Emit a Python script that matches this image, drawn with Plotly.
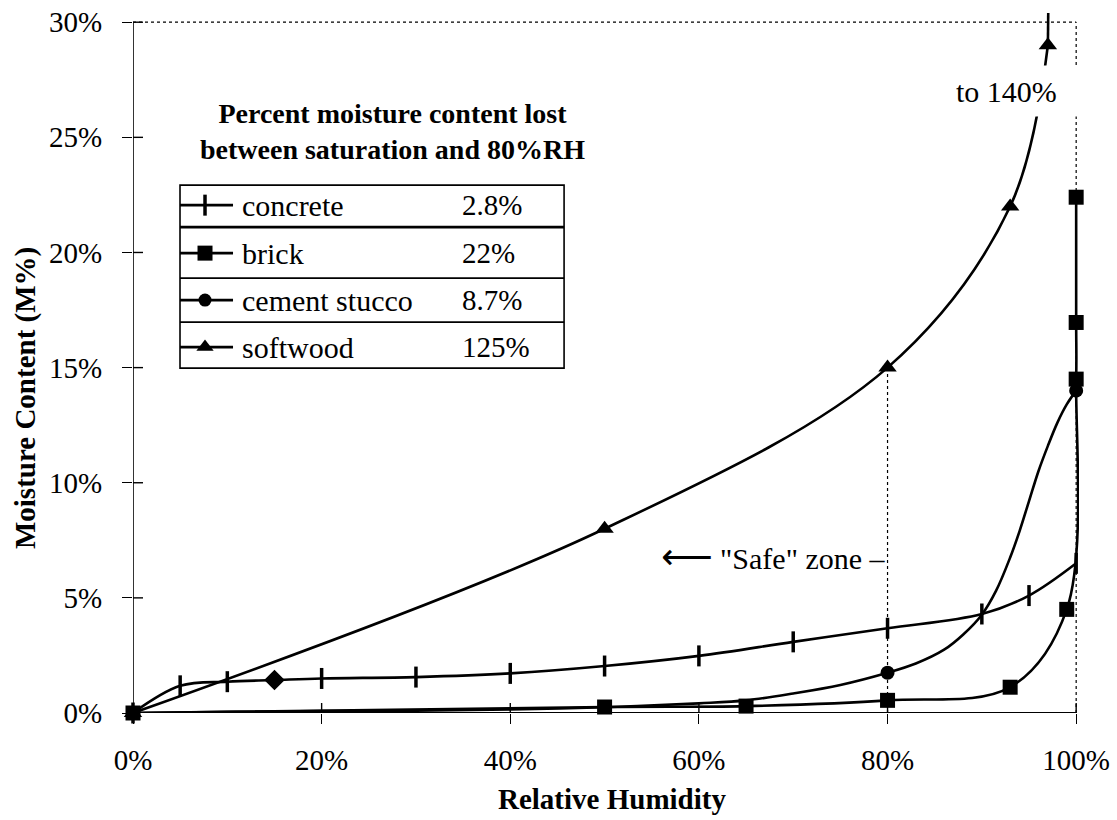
import plotly.graph_objects as go

# ---------------- data ----------------
rh_concrete = [0, 5, 10, 15, 20, 30, 40, 50, 60, 70, 80, 90, 95, 100]
mc_concrete = [0, 1.18, 1.36, 1.43, 1.50, 1.56, 1.72, 2.04, 2.48, 3.09, 3.68, 4.30, 5.10, 6.50]

rh_brick = [0, 50, 65, 80, 93, 99, 100, 100, 100]
mc_brick = [0, 0.26, 0.30, 0.55, 1.12, 4.50, 14.5, 16.96, 22.4]

# cement stucco: marked points and the drawn curve between them
rh_stucco = [0, 80, 100]
mc_stucco = [0, 1.75, 14.0]
rh_stucco_curve = [0, 10, 20, 30, 40, 50, 60, 65, 70, 75, 80, 83, 86, 88, 90, 91.5, 93, 94,
                   95, 96, 97, 98, 99, 100]
mc_stucco_curve = [0, 0.05, 0.08, 0.10, 0.15, 0.25, 0.42, 0.55, 0.85, 1.22, 1.75, 2.15, 2.75,
                   3.4, 4.27, 5.3, 6.75, 7.9, 9.2, 10.5, 11.6, 12.6, 13.4, 14.0]

rh_softwood = [0, 50, 80, 93, 97, 100]
mc_softwood = [0, 8.0, 15.0, 22.0, 29.0, 140.0]

materials = ["concrete", "brick", "cement stucco", "softwood"]
lost_pct = ["2.8%", "22%", "8.7%", "125%"]

x_ticks = [0, 20, 40, 60, 80, 100]
y_ticks = [0, 5, 10, 15, 20, 25, 30]

# ---------------- layout geometry ----------------
W, H = 1117, 820
PL = 133.0          # pixel of x = 0
PB = 713.0          # pixel of y = 0
KX = 9.43           # px per % RH
KY = 23.033         # px per % MC
X_MAX = 100.3
Y_MAX = 30.4
plot_w = KX * X_MAX
plot_h = KY * Y_MAX
m_l = PL
m_r = W - PL - plot_w
m_b = H - PB
m_t = PB - plot_h
TICK_LEN = 10


def dx(px):
    return (px - PL) / KX


def dy(py):
    return (PB - py) / KY


def px_(px):
    return (px - PL) / plot_w


def py_(py):
    return (PB - py) / plot_h


FONT = "Liberation Serif, Times New Roman, serif"
LW = 2.6

fig = go.Figure()

# data series
conc_symbols = ["diamond" if v == 15 else "line-ns" for v in rh_concrete]
conc_sizes = [12 if v == 15 else 15 for v in rh_concrete]
fig.add_trace(go.Scatter(
    x=rh_concrete, y=mc_concrete, mode="lines+markers", name="concrete",
    line=dict(color="black", width=LW, shape="spline"),
    marker=dict(symbol=conc_symbols, size=conc_sizes, color="black", opacity=1,
                line=dict(color="black", width=3.5)),
    cliponaxis=False, showlegend=False))

fig.add_trace(go.Scatter(
    x=rh_stucco_curve, y=mc_stucco_curve, mode="lines", name="cement stucco curve",
    line=dict(color="black", width=LW, shape="spline", smoothing=1),
    showlegend=False, hoverinfo="skip"))
fig.add_trace(go.Scatter(
    x=rh_stucco, y=mc_stucco, mode="markers", name="cement stucco",
    marker=dict(symbol="circle", size=14, color="black", opacity=1),
    cliponaxis=False, showlegend=False))

fig.add_trace(go.Scatter(
    x=rh_brick, y=mc_brick, mode="lines+markers", name="brick",
    line=dict(color="black", width=LW, shape="spline"),
    marker=dict(symbol="square", size=15, color="black", opacity=1),
    cliponaxis=False, showlegend=False))

fig.add_trace(go.Scatter(
    x=rh_softwood[:-1], y=mc_softwood[:-1], mode="lines+markers", name="softwood",
    line=dict(color="black", width=LW, shape="spline"),
    marker=dict(symbol="triangle-up", size=16, color="black", opacity=1),
    cliponaxis=False, showlegend=False))
# last softwood segment runs off the top of the chart (to 140%)
fig.add_trace(go.Scatter(
    x=rh_softwood[-2:], y=mc_softwood[-2:], mode="lines",
    line=dict(color="black", width=LW), showlegend=False, hoverinfo="skip"))

shapes = []
# axis lines and dotted frame
shapes.append(dict(type="line", xref="x", yref="y", x0=0, x1=0, y0=0, y1=30,
                   line=dict(color="black", width=1.6), layer="below"))
shapes.append(dict(type="line", xref="x", yref="y", x0=0, x1=100, y0=0, y1=0,
                   line=dict(color="black", width=1.8), layer="below"))
shapes.append(dict(type="line", xref="x", yref="y", x0=0, x1=100, y0=30, y1=30,
                   line=dict(color="black", width=1.2, dash="dot"), layer="below"))
shapes.append(dict(type="line", xref="x", yref="y", x0=100, x1=100, y0=0, y1=30,
                   line=dict(color="black", width=1.2, dash="dot"), layer="below"))
shapes.append(dict(type="line", xref="x", yref="y", x0=80, x1=80, y0=0, y1=15,
                   line=dict(color="black", width=1.2, dash="dot"), layer="below"))
# inner halves of the cross ticks
for v in x_ticks:
    shapes.append(dict(type="line", xref="x", yref="y", x0=v, x1=v, y0=0, y1=TICK_LEN / KY,
                       line=dict(color="black", width=1.4), layer="below"))
for v in y_ticks:
    shapes.append(dict(type="line", xref="x", yref="y", x0=0, x1=TICK_LEN / KX, y0=v, y1=v,
                       line=dict(color="black", width=1.4), layer="below"))

# legend table
box_l, box_r, box_t, box_b = 180, 564, 185, 368
row_lines = [227, 278, 322]
row_centers = [205, 253, 300, 347]
shapes.append(dict(type="rect", xref="paper", yref="paper", x0=px_(box_l), x1=px_(box_r),
                   y0=py_(box_b), y1=py_(box_t), line=dict(color="black", width=1.6),
                   fillcolor="white", layer="below"))
for i, ry in enumerate(row_lines):
    shapes.append(dict(type="line", xref="paper", yref="paper", x0=px_(box_l), x1=px_(box_r),
                       y0=py_(ry), y1=py_(ry),
                       line=dict(color="black", width=2.8 if i == 0 else 1.6)))

leg_symbols = ["line-ns", "square", "circle", "triangle-up"]
leg_sizes = [15, 15, 13, 15]
for sym, sz, cy in zip(leg_symbols, leg_sizes, row_centers):
    fig.add_trace(go.Scatter(x=[dx(180), dx(233)], y=[dy(cy), dy(cy)], mode="lines",
                             line=dict(color="black", width=LW), showlegend=False,
                             hoverinfo="skip", cliponaxis=False))
    fig.add_trace(go.Scatter(x=[dx(205)], y=[dy(cy)], mode="markers",
                             marker=dict(symbol=sym, size=sz, color="black", opacity=1,
                                         line=dict(color="black", width=3.5 if sym == "line-ns" else 0)),
                             showlegend=False, hoverinfo="skip", cliponaxis=False))

annotations = []
for name, val, cy in zip(materials, lost_pct, row_centers):
    annotations.append(dict(x=px_(240), y=py_(cy), xref="paper", yref="paper", text=name,
                            xanchor="left", yanchor="middle", showarrow=False,
                            font=dict(family=FONT, size=30, color="black")))
    annotations.append(dict(x=px_(460), y=py_(cy), xref="paper", yref="paper", text=val,
                            xanchor="left", yanchor="middle", showarrow=False,
                            font=dict(family=FONT, size=29, color="black")))

annotations.append(dict(x=px_(392), y=py_(131), xref="paper", yref="paper",
                        text="<b>Percent moisture content lost<br>between saturation and 80%RH</b>",
                        xanchor="center", yanchor="middle", showarrow=False, align="center",
                        font=dict(family=FONT, size=28, color="black")))

annotations.append(dict(x=px_(PL + 80 * KX), y=py_(557), xref="paper", yref="paper",
                        text="<span style=\"font-size:36px\">\u27f5</span> \"Safe\" zone \u2013",
                        xanchor="right", yanchor="middle",
                        showarrow=False,
                        font=dict(family=FONT + ", DejaVu Sans", size=30, color="black")))

annotations.append(dict(x=px_(955), y=py_(91), xref="paper", yref="paper", text="to 140%",
                        xanchor="left", yanchor="middle", showarrow=False, align="left",
                        width=132, height=50, bgcolor="white", borderpad=0,
                        font=dict(family=FONT, size=30, color="black")))

# axis titles
annotations.append(dict(x=px_(612), y=py_(799), xref="paper", yref="paper",
                        text="<b>Relative Humidity</b>",
                        xanchor="center", yanchor="middle", showarrow=False,
                        font=dict(family=FONT, size=29, color="black")))
annotations.append(dict(x=px_(25), y=py_(398), xref="paper", yref="paper",
                        text="<b>Moisture Content (M%)</b>",
                        xanchor="center", yanchor="middle", showarrow=False, textangle=-90,
                        font=dict(family=FONT, size=29, color="black")))

tick_font = dict(family=FONT, size=29, color="black")
fig.update_layout(
    width=W, height=H, autosize=False,
    margin=dict(l=m_l, r=m_r, t=m_t, b=m_b, pad=0),
    paper_bgcolor="white", plot_bgcolor="white",
    showlegend=False,
    xaxis=dict(range=[0, X_MAX], tickmode="array", tickvals=x_ticks,
               ticktext=[f"{v}%" for v in x_ticks], ticks="outside", ticklen=TICK_LEN,
               tickwidth=1.4, tickcolor="black", tickfont=tick_font, automargin=False,
               ticklabelstandoff=11, showgrid=False, zeroline=False, showline=False),
    yaxis=dict(range=[0, Y_MAX], tickmode="array", tickvals=y_ticks,
               ticktext=[f"{v}%" for v in y_ticks], ticks="outside", ticklen=TICK_LEN,
               tickwidth=1.4, tickcolor="black", tickfont=tick_font, automargin=False,
               ticklabelstandoff=14, showgrid=False, zeroline=False, showline=False),
    shapes=shapes,
    annotations=annotations,
)

fig.write_html("out.html", config={"displayModeBar": False},
               post_script="document.body.style.margin='0';document.body.style.overflow='hidden';")
